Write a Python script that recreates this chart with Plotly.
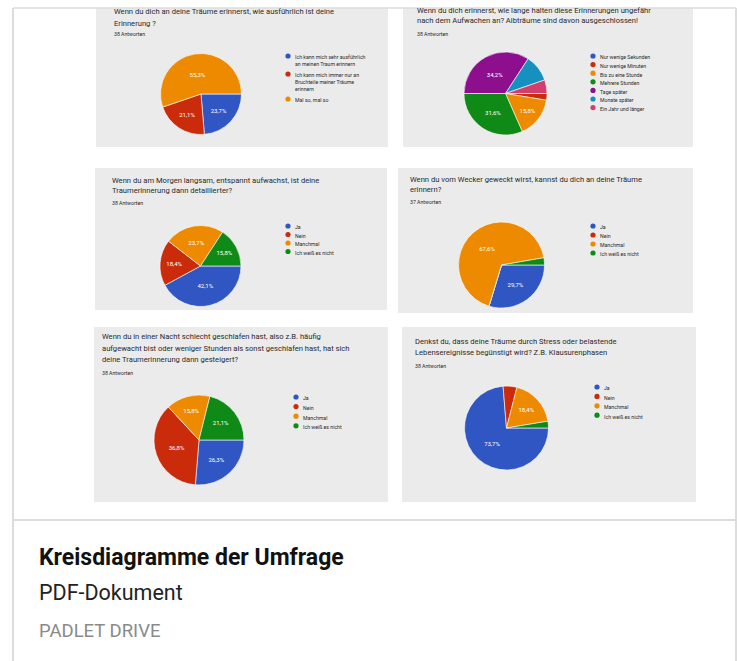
import textwrap
import plotly.graph_objects as go

W, H = 738, 661

# ---------------- data ----------------
q1_title = ["Wenn du dich an deine Träume erinnerst, wie ausführlich ist deine", "Erinnerung ?"]
q1_n = "38 Antworten"
q1_labels = ["Ich kann mich sehr ausführlich an meinen Traum erinnern",
             "Ich kann mich immer nur an Bruchteile meiner Träume erinnern",
             "Mal so, mal so"]
q1_values = [23.7, 21.1, 55.3]

q2_title = ["Wenn du dich erinnerst, wie lange halten diese Erinnerungen ungefähr",
            "nach dem Aufwachen an? Albträume sind davon ausgeschlossen!"]
q2_n = "38 Antworten"
q2_labels = ["Nur wenige Sekunden", "Nur wenige Minuten", "Bis zu eine Stunde", "Mehrere Stunden",
             "Tage später", "Monate später", "Ein Jahr und länger"]
q2_values = [0.0, 2.6, 15.8, 31.6, 34.2, 10.5, 5.3]

q3_title = ["Wenn du am Morgen langsam, entspannt aufwachst, ist deine",
            "Traumerinnerung dann detaillierter?"]
q3_n = "38 Antworten"
q3_labels = ["Ja", "Nein", "Manchmal", "Ich weiß es nicht"]
q3_values = [42.1, 18.4, 23.7, 15.8]

q4_title = ["Wenn du vom Wecker geweckt wirst, kannst du dich an deine Träume", "erinnern?"]
q4_n = "37 Antworten"
q4_labels = ["Ja", "Nein", "Manchmal", "Ich weiß es nicht"]
q4_values = [29.7, 0.0, 67.6, 2.7]

q5_title = ["Wenn du in einer Nacht schlecht geschlafen hast, also z.B. häufig",
            "aufgewacht bist oder weniger Stunden als sonst geschlafen hast, hat sich",
            "deine Traumerinnerung dann gesteigert?"]
q5_n = "38 Antworten"
q5_labels = ["Ja", "Nein", "Manchmal", "Ich weiß es nicht"]
q5_values = [26.3, 36.8, 15.8, 21.1]

q6_title = ["Denkst du, dass deine Träume durch Stress oder belastende",
            "Lebensereignisse begünstigt wird? Z.B. Klausurenphasen"]
q6_n = "38 Antworten"
q6_labels = ["Ja", "Nein", "Manchmal", "Ich weiß es nicht"]
q6_values = [73.7, 5.3, 18.4, 2.6]

card_title = "Kreisdiagramme der Umfrage"
card_sub = "PDF-Dokument"
card_src = "PADLET DRIVE"

# ---------------- style ----------------
palette = ["#2f56c2", "#c92b0b", "#ee8a00", "#0f8a16", "#8e0f8e", "#1691bf", "#d43e6c"]
panel_bg = "#ebebeb"
txt = "#2a2a2a"
FONT = "Roboto"


def px(x):
    return x / W


def py(y):
    return 1 - y / H


panels = [
    dict(title=q1_title, n=q1_n, labels=q1_labels, values=q1_values,
         rect=(96, 8, 388, 147), tx=112, ty=[11, 23], ny=34, c=(201, 94), r=40.5,
         lx=288, ly=56, step=9, lh=7, wrap=30),
    dict(title=q2_title, n=q2_n, labels=q2_labels, values=q2_values,
         rect=(403, 8, 693, 147), tx=415, ty=[10, 21], ny=34, c=(505.5, 93.5), r=41.5,
         lx=593, ly=56, step=8.6, lh=7, wrap=40),
    dict(title=q3_title, n=q3_n, labels=q3_labels, values=q3_values,
         rect=(95, 168, 387, 310), tx=110, ty=[180, 191], ny=203, c=(200.5, 266), r=40.5,
         lx=288, ly=226, step=8.5, lh=7, wrap=40),
    dict(title=q4_title, n=q4_n, labels=q4_labels, values=q4_values,
         rect=(398, 168, 693, 313), tx=408, ty=[179, 190], ny=202, c=(501.5, 265), r=43,
         lx=593, ly=226, step=9, lh=7, wrap=40),
    dict(title=q5_title, n=q5_n, labels=q5_labels, values=q5_values,
         rect=(94, 327, 388, 502), tx=100, ty=[336, 348, 359], ny=373, c=(199, 440), r=45,
         lx=296, ly=397, step=9.6, lh=7, wrap=40),
    dict(title=q6_title, n=q6_n, labels=q6_labels, values=q6_values,
         rect=(402, 327, 696, 502), tx=413, ty=[341, 352], ny=366, c=(506.5, 428), r=42,
         lx=597, ly=387, step=9.4, lh=7, wrap=40),
]

fig = go.Figure()
shapes = []
annotations = []

border = "#dcdcdc"
shapes.append(dict(type="line", xref="paper", yref="paper", x0=px(13), x1=px(736), y0=py(8), y1=py(8),
                   line=dict(color=border, width=1.5)))
shapes.append(dict(type="line", xref="paper", yref="paper", x0=px(13), x1=px(13), y0=py(8), y1=0,
                   line=dict(color=border, width=2)))
shapes.append(dict(type="line", xref="paper", yref="paper", x0=px(736), x1=px(736), y0=py(8), y1=0,
                   line=dict(color=border, width=2)))
shapes.append(dict(type="line", xref="paper", yref="paper", x0=px(13), x1=px(736), y0=py(520), y1=py(520),
                   line=dict(color=border, width=2)))

for p in panels:
    x0, y0, x1, y1 = p["rect"]
    shapes.append(dict(type="rect", xref="paper", yref="paper", layer="below",
                       x0=px(x0), x1=px(x1), y0=py(y1), y1=py(y0),
                       fillcolor=panel_bg, line=dict(width=0)))
    for line, yy in zip(p["title"], p["ty"]):
        annotations.append(dict(text=line, x=px(p["tx"]), y=py(yy), xref="paper", yref="paper",
                                xanchor="left", yanchor="middle", showarrow=False,
                                font=dict(family=FONT, size=7.6, color=txt)))
    annotations.append(dict(text=p["n"], x=px(p["tx"]), y=py(p["ny"]), xref="paper", yref="paper",
                            xanchor="left", yanchor="middle", showarrow=False,
                            font=dict(family=FONT, size=5.2, color=txt)))
    cx, cy = p["c"]
    r = p["r"]
    vals = p["values"]
    texts = [(f"{v:.1f}%".replace(".", ",") if v >= 12 else "") for v in vals]
    fig.add_trace(go.Pie(
        labels=p["labels"], values=vals, text=texts, textinfo="text",
        textposition="inside", insidetextorientation="horizontal",
        textfont=dict(family=FONT, size=6, color="white"),
        marker=dict(colors=palette[:len(vals)], line=dict(color="white", width=0.6)),
        sort=False, direction="clockwise", rotation=90,
        domain=dict(x=[px(cx - r), px(cx + r)], y=[py(cy + r), py(cy - r)]),
        showlegend=False, hoverinfo="skip",
    ))
    yy = p["ly"]
    for i, lab in enumerate(p["labels"]):
        lines = textwrap.wrap(lab, p["wrap"])
        shapes.append(dict(type="circle", xref="paper", yref="paper",
                           x0=px(p["lx"] - 2.6), x1=px(p["lx"] + 2.6),
                           y0=py(yy + 2.6), y1=py(yy - 2.6),
                           fillcolor=palette[i], line=dict(width=0)))
        annotations.append(dict(text="<br>".join(lines), x=px(p["lx"] + 5), y=py(yy - 3.6),
                                xref="paper", yref="paper", xanchor="left", yanchor="top",
                                align="left", showarrow=False,
                                font=dict(family=FONT, size=5.2, color=txt)))
        yy += (len(lines) - 1) * p["lh"] + p["step"] + (2 if len(lines) > 1 else 0)

annotations.append(dict(text=f"<b>{card_title}</b>", x=px(37), y=py(557), xref="paper", yref="paper",
                        xanchor="left", yanchor="middle", showarrow=False,
                        font=dict(family=FONT, size=23, color="#111111")))
annotations.append(dict(text=card_sub, x=px(37), y=py(592), xref="paper", yref="paper",
                        xanchor="left", yanchor="middle", showarrow=False,
                        font=dict(family=FONT, size=21.5, color="#222222")))
annotations.append(dict(text=card_src, x=px(37), y=py(631), xref="paper", yref="paper",
                        xanchor="left", yanchor="middle", showarrow=False,
                        font=dict(family=FONT, size=18.5, color="#8a8a8a")))

fig.update_layout(width=W, height=H, autosize=False,
                  margin=dict(l=0, r=0, t=0, b=0),
                  paper_bgcolor="white", plot_bgcolor="white",
                  shapes=shapes, annotations=annotations)

fig.write_html("out.html", config=dict(displayModeBar=False))
